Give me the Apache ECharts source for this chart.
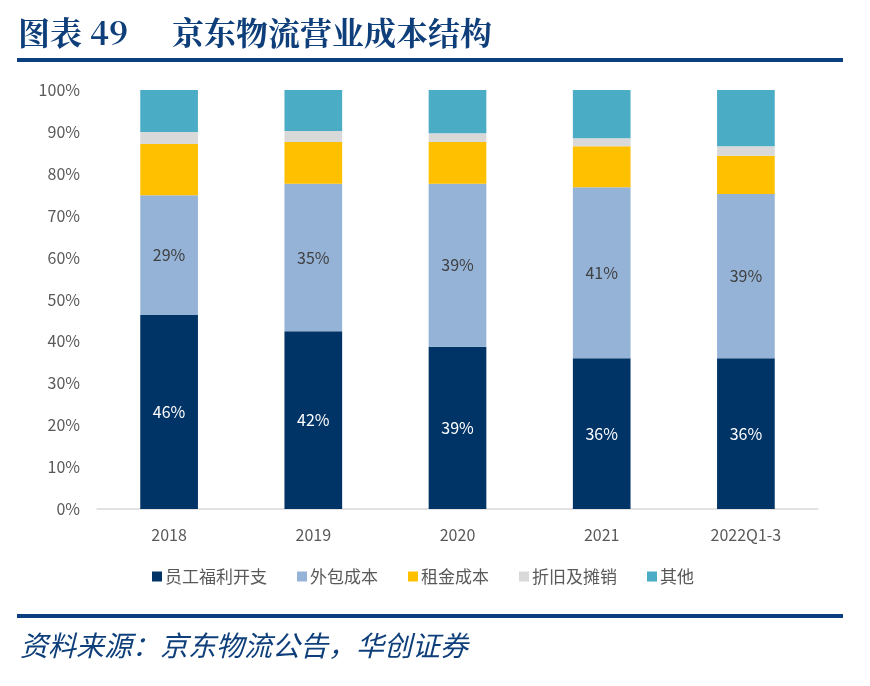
<!DOCTYPE html>
<html>
<head>
<meta charset="utf-8">
<script src="https://cdn.jsdelivr.net/npm/echarts@6/dist/echarts.min.js"></script>
<style>
html,body{margin:0;padding:0;background:#fff;}
#c{width:870px;height:686px;}
</style>
</head>
<body>
<div id="c"></div>
<script>
var categories = ['2018', '2019', '2020', '2021', '2022Q1-3'];
var staffCost = [46.3, 42.4, 38.7, 36.0, 36.0];
var outsourceCost = [28.6, 35.2, 38.9, 40.8, 39.2];
var rentCost = [12.2, 10.0, 10.0, 9.8, 9.1];
var depreciation = [2.9, 2.6, 2.1, 1.9, 2.3];
var others = [10.0, 9.8, 10.3, 11.5, 13.4];
var yTicks = [0, 10, 20, 30, 40, 50, 60, 70, 80, 90, 100];

var chart = echarts.init(document.getElementById('c'));
var font = '"Noto Sans CJK SC", "Open Sans", sans-serif';
function mk(name, data, color, labelColor) {
  var s = {
    name: name, type: 'bar', stack: 'total', data: data, barWidth: '40%',
    itemStyle: {color: color},
    label: {show: false}
  };
  if (labelColor) {
    s.label = {
      show: true, position: 'inside', color: labelColor, fontSize: 16,
      fontFamily: font,
      formatter: function (p) { return Math.round(p.value) + '%'; }
    };
  }
  return s;
}
chart.setOption({
  animation: false,
  textStyle: {fontFamily: font},
  grid: {left: 97, right: 52, top: 90, bottom: 177, containLabel: false},
  legend: {
    bottom: 96, left: 147, itemWidth: 10, itemHeight: 10, itemGap: 30,
    icon: 'rect',
    textStyle: {fontSize: 17, color: '#595959', fontFamily: font, padding: [0, 0, 0, -2]},
    data: ['员工福利开支', '外包成本', '租金成本', '折旧及摊销', '其他']
  },
  xAxis: {
    type: 'category', data: categories,
    axisLine: {lineStyle: {color: '#D9D9D9', width: 1.5}},
    axisTick: {show: false},
    axisLabel: {color: '#595959', fontSize: 16, margin: 18}
  },
  yAxis: {
    type: 'value', min: 0, max: 100, interval: 10,
    axisLine: {show: false}, axisTick: {show: false},
    splitLine: {show: false},
    axisLabel: {color: '#595959', fontSize: 16, margin: 17,
      formatter: function (v) { return yTicks.indexOf(v) >= 0 ? v + '%' : ''; }}
  },
  series: [
    mk('员工福利开支', staffCost, '#003366', '#FFFFFF'),
    mk('外包成本', outsourceCost, '#95B3D7', '#404040'),
    mk('租金成本', rentCost, '#FFC000'),
    mk('折旧及摊销', depreciation, '#D9D9D9'),
    mk('其他', others, '#4BACC6')
  ],
  graphic: [
    {type: 'text', left: 18, top: 17, style: {text: '图表 49', fill: '#0F3F7A',
      font: 'bold 32px "Noto Serif CJK SC", "Noto Sans CJK SC", serif'}},
    {type: 'text', left: 172, top: 17, style: {text: '京东物流营业成本结构', fill: '#0F3F7A',
      font: 'bold 32px "Noto Serif CJK SC", "Noto Sans CJK SC", serif'}},
    {type: 'rect', shape: {x: 17, y: 58, width: 826, height: 4}, style: {fill: '#0A4080'}},
    {type: 'rect', shape: {x: 17, y: 614, width: 826, height: 4}, style: {fill: '#0A4080'}},
    {type: 'text', left: 20, top: 631, style: {text: '资料来源：京东物流公告，华创证券', fill: '#0F3F7A',
      font: 'italic 28px "Noto Sans CJK SC", sans-serif'}}
  ]
});
</script>
</body>
</html>
